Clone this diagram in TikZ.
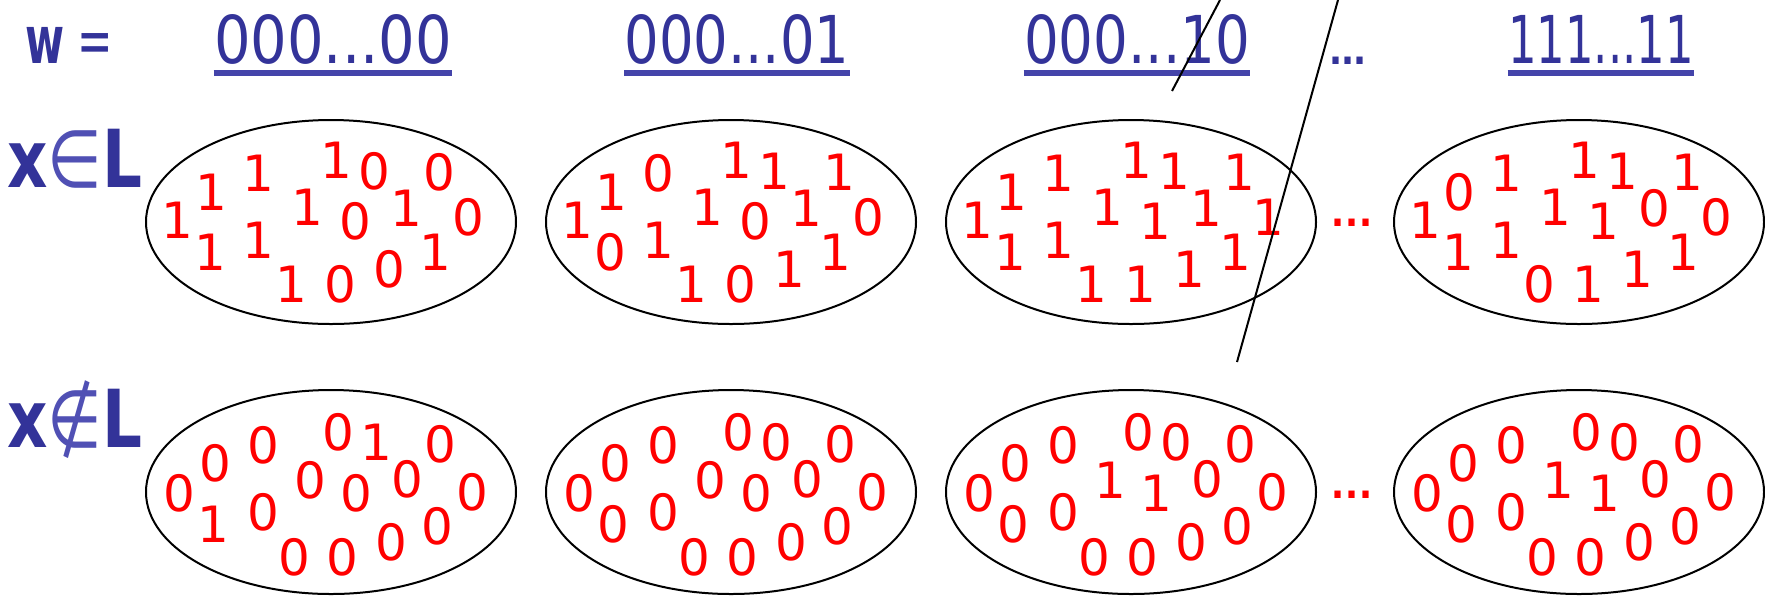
\documentclass[tikz,border=0pt]{standalone}
\usepackage{fontspec}
\usepackage{graphicx}
\setmainfont{DejaVu Sans}
\usetikzlibrary{shapes.geometric}
\definecolor{hblue}{RGB}{51,51,153}
\definecolor{ublue}{RGB}{68,68,170}
\definecolor{eblue}{RGB}{80,80,180}
\definecolor{dred}{RGB}{255,0,0}
\def\toppos{-154/-2,-120/-30,-73/-49,5/-62,43/-51,108/-50,-24/-15,24/-1,75/-14,137/-5,-121/30,-73/18,-40/62,9/62,58/47,104/30}
\def\botpos{-152/1,-116/-29,-68/-47,7/-60,45/-50,109/-48,-21/-12,25/1,76/-13,141/0,-118/32,-68/20,-37/65,11/65,60/50,106/34}
\newcommand\placedigits[5]{%
  \foreach \dx/\dy [count=\i from 0] in #5 {
    \pgfmathtruncatemacro\dd{{#4}[\i]}
    \node[dig] (#1-\i) at (#2+\dx,#3+\dy) {\dd};
  }}
\newcommand\tightdots[1]{.\kern#1.\kern#1.}
\begin{document}
\begin{tikzpicture}[x=0.5pt,y=-0.5pt,
  ell/.style={draw, line width=1pt, ellipse, minimum width=185pt, minimum height=102pt, inner sep=0},
  dig/.style={text=dred, font=\fontsize{25}{25}\selectfont, inner sep=0},
  hdr/.style={text=hblue, font=\fontsize{33}{33}\selectfont, inner sep=0, anchor=base},
  ul/.style={draw=ublue, line width=3pt},
  lab/.style={text=hblue, font=\fontsize{40}{40}\selectfont, inner sep=0, anchor=base},
  bigdots/.style={font=\fontsize{30}{30}\selectfont, inner sep=0, anchor=base},
  cut/.style={draw, line width=1pt},
]
\useasboundingbox (0,0) rectangle (1765,596);

% headers
\node[hdr] (w) at (69,63) {\resizebox{44pt}{\height}{\textbf{w} =}};
\node[hdr] (h1) at (333,63) {\resizebox{119pt}{\height}{000...00}};
\node[hdr] (h2) at (737,63) {\resizebox{112.5pt}{\height}{000...01}};
\node[hdr] (h3) at (1137,63) {\resizebox{113pt}{\height}{000...10}};
\node[bigdots, text=hblue] (hd) at (1348,64) {\tightdots{-3.5pt}};
\node[hdr] (h4) at (1601,63) {\resizebox{93pt}{\height}{111...11}};
\foreach \h in {h1,h2,h3,h4}
  \draw[ul] ([yshift=-5pt]\h.base west) -- ([yshift=-5pt]\h.base east);

% row labels
\node[lab] (xin) at (75,187) {\resizebox{67.5pt}{\height}{\textbf{x}\textcolor{eblue}{∈}\textbf{L}}};
\node[lab] (xnin) at (75,447) {\resizebox{67.5pt}{\height}{\textbf{x}\textcolor{eblue}{∉}\textbf{L}}};

% ellipses
\node[ell] (t1) at (331,222) {};
\node[ell] (t2) at (731,222) {};
\node[ell] (t3) at (1131,222) {};
\node[ell] (t4) at (1579,222) {};
\node[ell] (b1) at (331,492) {};
\node[ell] (b2) at (731,492) {};
\node[ell] (b3) at (1131,492) {};
\node[ell] (b4) at (1579,492) {};

% digits
\placedigits{ta}{331}{222}{1,1,1,1,0,0,1,0,1,0,1,1,1,0,0,1}{\toppos}
\placedigits{tb}{731}{222}{1,1,0,1,1,1,1,0,1,0,0,1,1,0,1,1}{\toppos}
\placedigits{tc}{1131}{222}{1,1,1,1,1,1,1,1,1,1,1,1,1,1,1,1}{\toppos}
\placedigits{td}{1579}{222}{1,0,1,1,1,1,1,1,0,0,1,1,0,1,1,1}{\toppos}
\placedigits{ba}{331}{492}{0,0,0,0,1,0,0,0,0,0,1,0,0,0,0,0}{\botpos}
\placedigits{bb}{731}{492}{0,0,0,0,0,0,0,0,0,0,0,0,0,0,0,0}{\botpos}
\placedigits{bc}{1131}{492}{0,0,0,0,0,0,1,1,0,0,0,0,0,0,0,0}{\botpos}
\placedigits{bd}{1579}{492}{0,0,0,0,0,0,1,1,0,0,0,0,0,0,0,0}{\botpos}

% dots between ellipses
\node[bigdots, text=dred] (dtop) at (1352,226) {\tightdots{-2.5pt}};
\node[bigdots, text=dred] (dbot) at (1352,498) {\tightdots{-2.5pt}};

% cut lines
\coordinate (c1a) at (1220,0);
\coordinate (c1b) at (1172,91);
\coordinate (c2a) at (1338,0);
\coordinate (c2b) at (1237,362);
\draw[cut] (c1a) -- (c1b);
\draw[cut] (c2a) -- (c2b);
\end{tikzpicture}
\end{document}
